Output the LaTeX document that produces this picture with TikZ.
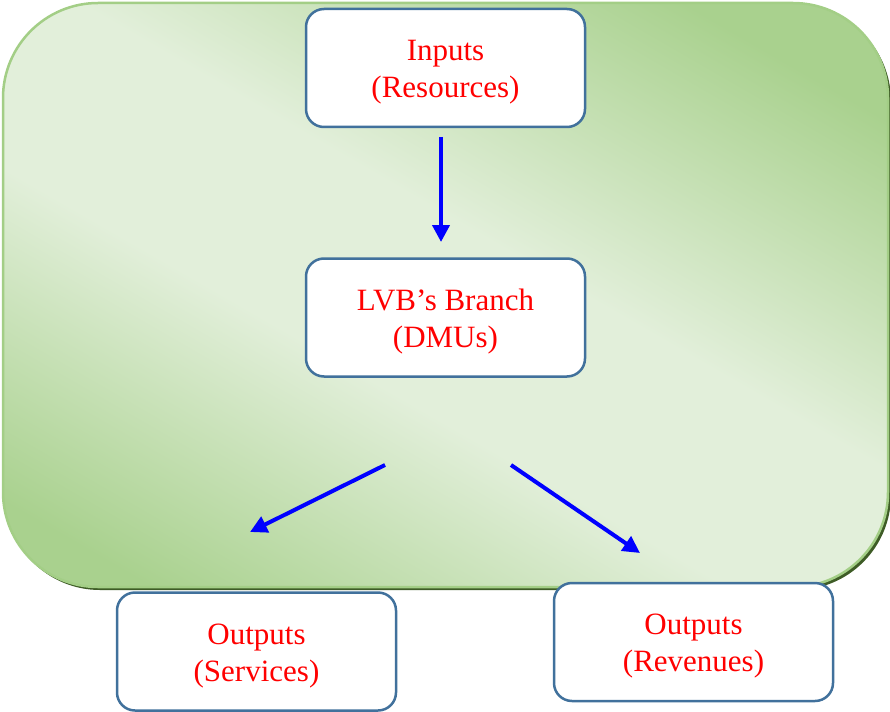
\documentclass[tikz,border=0pt]{standalone}
\usepackage{fontspec}
\setmainfont{Liberation Serif}
\usetikzlibrary{arrows.meta}
\definecolor{gdark}{HTML}{A9D18E}
\definecolor{glight}{HTML}{E2EFDA}
\definecolor{gedge}{HTML}{A3CE86}
\definecolor{gshadow}{HTML}{3E5C26}
\definecolor{boxline}{HTML}{41719C}
\pgfdeclarehorizontalshading{greenband}{100bp}{color(0bp)=(gdark); color(21bp)=(gdark); color(42bp)=(glight); color(55bp)=(glight); color(77bp)=(gdark); color(100bp)=(gdark)}
% two centred lines; the taller first strut sets them a little lower in the box
\newcommand{\twolines}[2]{\begin{tabular}{@{}c@{}}\rule{0pt}{34pt}#1\\#2\end{tabular}}
\begin{document}
\begin{tikzpicture}[x=1pt,y=-1pt,
  stage/.style={draw=boxline, line width=2.5pt, rounded corners=18pt, fill=white,
    minimum width=279pt, minimum height=118pt, inner sep=0pt, text=red,
    font=\fontsize{31}{37}\selectfont},
  flow/.style={draw=blue, line width=4pt, -{Triangle[length=17pt,width=17pt]}}]
\useasboundingbox (0,0) rectangle (890,711);
% green panel with its drop shadow
\fill[gshadow, rounded corners=95pt] (5,6) rectangle (891,590);
\shade[shading=greenband, shading angle=60, draw=gedge, line width=2.5pt,
  rounded corners=95pt] (3,3) rectangle (888,587);
% stages
\node[stage] (inp) at (445.5,68) {\twolines{Inputs}{(Resources)}};
\node[stage] (lvb) at (445.5,317.5) {\twolines{LVB’s Branch}{(DMUs)}};
\node[stage] (svc) at (256.5,651.5) {\twolines{Outputs}{(Services)}};
\node[stage] (rev) at (693.5,642) {\twolines{Outputs}{(Revenues)}};
% arrows
\coordinate (a1) at (441,137); \coordinate (a2) at (441,242);
\coordinate (b1) at (385,465); \coordinate (b2) at (250,532);
\coordinate (c1) at (511,465); \coordinate (c2) at (640,553);
\draw[flow] (a1) -- (a2);
\draw[flow] (b1) -- (b2);
\draw[flow] (c1) -- (c2);
\end{tikzpicture}
\end{document}
